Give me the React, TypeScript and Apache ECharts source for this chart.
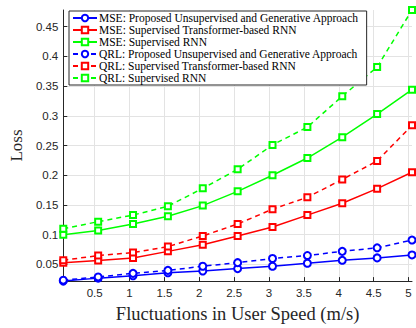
import React, { useEffect, useRef } from "react";
import * as echarts from "echarts";

const xValues = [0.05, 0.55, 1.05, 1.55, 2.05, 2.55, 3.05, 3.55, 4.05, 4.55, 5.05];
const xTicks = [0.5, 1, 1.5, 2, 2.5, 3, 3.5, 4, 4.5, 5];
const yTicks = [0.05, 0.1, 0.15, 0.2, 0.25, 0.3, 0.35, 0.4, 0.45];

const mseProposed = [0.022, 0.027, 0.031, 0.036, 0.039, 0.043, 0.047, 0.052, 0.057, 0.061, 0.066];
const mseTransformer = [0.053, 0.0565, 0.061, 0.072, 0.083, 0.098, 0.113, 0.133, 0.153, 0.1775, 0.205];
const mseRnn = [0.1, 0.107, 0.118, 0.131, 0.149, 0.173, 0.2, 0.229, 0.264, 0.303, 0.344];
const qrlProposed = [0.0235, 0.029, 0.035, 0.04, 0.047, 0.053, 0.06, 0.065, 0.072, 0.078, 0.091];
const qrlTransformer = [0.057, 0.065, 0.07, 0.08, 0.098, 0.118, 0.143, 0.163, 0.193, 0.224, 0.284];
const qrlRnn = [0.11, 0.122, 0.133, 0.148, 0.178, 0.21, 0.251, 0.281, 0.333, 0.382, 0.478];

const seriesNames = [
  "MSE: Proposed Unsupervised and Generative Approach",
  "MSE: Supervised Transformer-based RNN",
  "MSE: Supervised RNN",
  "QRL: Proposed Unsupervised and Generative Approach",
  "QRL: Supervised Transformer-based RNN",
  "QRL: Supervised RNN",
];

const serif = "'Liberation Serif', 'DejaVu Serif', serif";
const sans = "'Liberation Sans', Arial, sans-serif";

export default function App() {
  const ref = useRef<HTMLDivElement>(null);
  useEffect(() => {
    if (!ref.current) return;
    const chart = echarts.init(ref.current, undefined, { renderer: "svg" });
    const data = [mseProposed, mseTransformer, mseRnn, qrlProposed, qrlTransformer, qrlRnn];
    const colors = ["#0000ff", "#ff0000", "#00ff00", "#0000ff", "#ff0000", "#00ff00"];
    const symbols = ["emptyCircle", "emptyRect", "emptyRect", "emptyCircle", "emptyRect", "emptyRect"];
    const series = data.map((d, i) => ({
      name: seriesNames[i],
      type: "line",
      data: d.map((v, j) => [xValues[j], v]),
      symbol: symbols[i],
      symbolSize: i % 3 === 0 ? 7 : 6,
      showAllSymbol: true,
      lineStyle: { color: colors[i], width: 1.5, type: i >= 3 ? [5, 4] : "solid" },
      itemStyle: { color: colors[i], borderColor: colors[i], borderWidth: 1.5 },
      z: 3,
    }));
    chart.setOption({
      animation: false,
      grid: { left: 55, right: 4, top: 10, bottom: 37, containLabel: false },
      legend: {
        orient: "vertical",
        left: 69,
        top: 11,
        itemGap: 0,
        itemWidth: 24,
        itemHeight: 8,
        padding: [1, 8, 1, 3],
        backgroundColor: "#ffffff",
        borderColor: "#262626",
        borderWidth: 1,
        textStyle: { fontFamily: serif, fontSize: 11.5, lineHeight: 12, color: "#000", padding: [0, 0, 0, -3] },
        data: seriesNames,
      },
      xAxis: {
        type: "value",
        min: 0.05,
        max: 5.05,
        name: "Fluctuations in User Speed (m/s)",
        nameLocation: "middle",
        nameGap: 20,
        nameTextStyle: { fontFamily: serif, fontSize: 18.5, color: "#262626" },
        axisLine: { onZero: false, lineStyle: { color: "#262626", width: 1 } },
        axisTick: { inside: true, length: 4, customValues: xTicks, lineStyle: { color: "#262626" } },
        axisLabel: { customValues: xTicks, fontFamily: sans, fontSize: 11.5, color: "#262626", margin: 6 },
        splitLine: { show: true, lineStyle: { color: "#e3e3e3", width: 1 } },
      },
      yAxis: {
        type: "value",
        min: 0.022,
        max: 0.478,
        name: "Loss",
        nameLocation: "middle",
        nameGap: 38,
        nameRotate: 90,
        nameTextStyle: { fontFamily: serif, fontSize: 17, color: "#262626" },
        axisLine: { show: true, onZero: false, lineStyle: { color: "#262626", width: 1 } },
        axisTick: { show: true, inside: true, length: 4, customValues: yTicks, lineStyle: { color: "#262626" } },
        axisLabel: { customValues: yTicks, fontFamily: sans, fontSize: 11.5, color: "#262626", margin: 5 },
        splitLine: { show: true, lineStyle: { color: "#e3e3e3", width: 1 } },
      },
      series,
    });
    return () => chart.dispose();
  }, []);
  return <div ref={ref} style={{ width: 416, height: 328, position: "absolute", left: 0, top: 0, background: "#fff" }} />;
}
